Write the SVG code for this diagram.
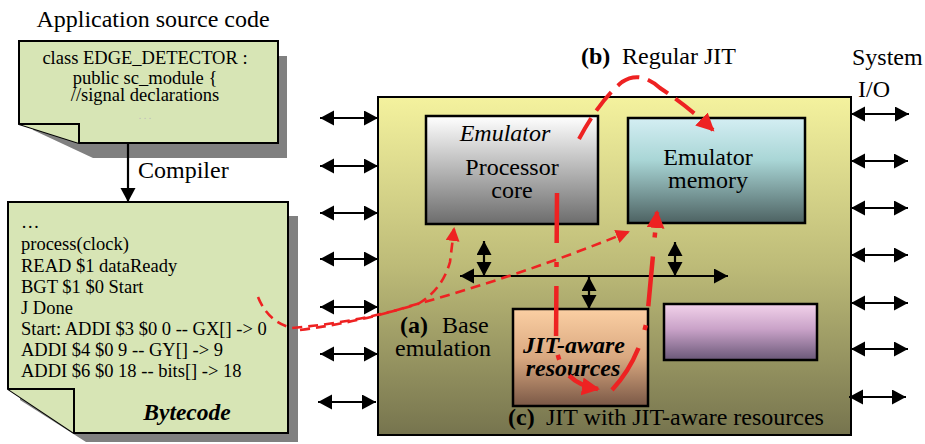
<svg xmlns="http://www.w3.org/2000/svg" width="925" height="444" viewBox="0 0 925 444">
<style>
  text { font-family: "Liberation Serif", "Times New Roman", serif; fill: #000; }
  .doc { fill: #d7e5b5; stroke: #000; stroke-width: 2; stroke-linejoin: miter; }
  .shadow { fill: #808080; }
  .box { stroke: #000; stroke-width: 2.5; }
  .blk { stroke: #000; stroke-width: 2.2; fill: none; }
  .dbl { marker-start: url(#ah); marker-end: url(#ah); }
  .red-thin { stroke: #ee2222; stroke-width: 2.6; fill: none; stroke-dasharray: 10 6; }
  .red-long { stroke: #ee2222; stroke-width: 4; fill: none; stroke-dasharray: 24 9; }
  .red-dd { stroke: #ee2222; stroke-width: 4.5; fill: none; stroke-dasharray: 50 19 5 19; }
  .code { font-size: 18.5px; }
  .lbl { font-size: 24px; }
</style>
<defs>
  <marker id="ah" markerUnits="userSpaceOnUse" markerWidth="16" markerHeight="16" refX="14" refY="7.5" orient="auto-start-reverse" viewBox="0 0 16 16">
    <path d="M0,0 L14,7.5 L0,15 z" fill="#000"/>
  </marker>
  <marker id="rh" markerUnits="userSpaceOnUse" markerWidth="20" markerHeight="20" refX="16" refY="9" orient="auto" viewBox="0 0 20 20">
    <path d="M0,0 L18,9 L0,18 z" fill="#ee2222"/>
  </marker>
  <marker id="rhs" markerUnits="userSpaceOnUse" markerWidth="16" markerHeight="16" refX="12" refY="7" orient="auto" viewBox="0 0 16 16">
    <path d="M0,0 L14,7 L0,14 z" fill="#ee2222"/>
  </marker>
  <linearGradient id="gMain" x1="0" y1="0" x2="0" y2="1">
    <stop offset="0" stop-color="#f4f29e"/>
    <stop offset="0.5" stop-color="#bdbb78"/>
    <stop offset="1" stop-color="#76744e"/>
  </linearGradient>
  <linearGradient id="gProc" x1="0" y1="0" x2="0" y2="1">
    <stop offset="0" stop-color="#ffffff"/>
    <stop offset="1" stop-color="#6c6c6c"/>
  </linearGradient>
  <linearGradient id="gMem" x1="0" y1="0" x2="0" y2="1">
    <stop offset="0" stop-color="#d4eef3"/>
    <stop offset="0.4" stop-color="#a9d6d6"/>
    <stop offset="1" stop-color="#4d6262"/>
  </linearGradient>
  <linearGradient id="gJit" x1="0" y1="0" x2="0" y2="1">
    <stop offset="0" stop-color="#fbcfa3"/>
    <stop offset="0.5" stop-color="#d9a880"/>
    <stop offset="1" stop-color="#7a5846"/>
  </linearGradient>
  <linearGradient id="gPur" x1="0" y1="0" x2="0" y2="1">
    <stop offset="0" stop-color="#f2d2ea"/>
    <stop offset="0.45" stop-color="#c9a2c8"/>
    <stop offset="1" stop-color="#6a5878"/>
  </linearGradient>
</defs>

<!-- Source code document -->
<g id="source-doc">
  <text class="lbl" x="153" y="27" text-anchor="middle">Application source code</text>
  <polygon class="shadow" points="33,56 287,56 287,158 93,158 33,130"/>
  <polygon class="doc" points="19,41 278,41 278,143 79,143 19,124"/>
  <polyline class="doc" points="19,124 79,124 79,143"/>
  <text class="code" x="145" y="64" text-anchor="middle">class EDGE_DETECTOR :</text>
  <text class="code" x="145" y="84" text-anchor="middle">public sc_module {</text>
  <text class="code" x="145" y="101" text-anchor="middle">//signal declarations</text>
  <text x="145" y="119" font-size="10" text-anchor="middle" style="fill:#bbbbbb">. . .</text>
</g>

<g id="compiler-label">
  <text class="lbl" x="138" y="178">Compiler</text>
</g>

<!-- Bytecode document -->
<g id="bytecode-doc">
  <polygon class="shadow" points="20,216 298,216 298,442 86,442 20,400"/>
  <polygon class="doc" points="8,202 288,202 288,433 74,433 8,389"/>
  <polyline class="doc" points="8,389 74,389 74,433"/>
  <text class="code" x="21" y="228">…</text>
  <text class="code" x="21" y="250">process(clock)</text>
  <text class="code" x="21" y="272">READ $1 dataReady</text>
  <text class="code" x="21" y="293">BGT $1 $0 Start</text>
  <text class="code" x="21" y="314">J Done</text>
  <text class="code" x="21" y="335">Start: ADDI $3 $0 0 -- GX[] -&gt; 0</text>
  <text class="code" x="21" y="356">ADDI $4 $0 9 -- GY[] -&gt; 9</text>
  <text class="code" x="21" y="377">ADDI $6 $0 18 -- bits[] -&gt; 18</text>
  <text x="187" y="420" font-size="23.5" font-weight="bold" font-style="italic" text-anchor="middle">Bytecode</text>
</g>

<!-- Main emulation box -->
<g id="main-box">
  <rect x="378" y="97" width="473" height="338" fill="url(#gMain)" stroke="#000" stroke-width="2"/>
</g>

<g id="processor-core">
  <rect class="box" x="426" y="116" width="172" height="108" fill="url(#gProc)"/>
  <text class="lbl" x="505" y="141" font-style="italic" text-anchor="middle">Emulator</text>
  <text class="lbl" x="512" y="175" text-anchor="middle">Processor</text>
  <text class="lbl" x="512" y="198" text-anchor="middle">core</text>
</g>

<g id="emulator-memory">
  <rect class="box" x="628" y="118" width="177" height="105" fill="url(#gMem)"/>
  <text class="lbl" x="708" y="165" text-anchor="middle">Emulator</text>
  <text class="lbl" x="708" y="188" text-anchor="middle">memory</text>
</g>

<g id="jit-resources">
  <rect class="box" x="513" y="309" width="135" height="97" fill="url(#gJit)"/>
  <text class="lbl" x="574" y="353" font-weight="bold" font-style="italic" text-anchor="middle">JIT-aware</text>
  <text class="lbl" x="573" y="376" font-weight="bold" font-style="italic" text-anchor="middle">resources</text>
</g>

<g id="purple-block">
  <rect class="box" x="664" y="304" width="153" height="56" fill="url(#gPur)"/>
</g>

<g id="labels">
  <text class="lbl" y="64"><tspan x="581" font-weight="bold">(b)</tspan><tspan x="622">Regular JIT</tspan></text>
  <text class="lbl" x="852" y="65">System</text>
  <text class="lbl" x="858" y="97">I/O</text>
  <text class="lbl" y="333"><tspan x="400" font-weight="bold">(a)</tspan><tspan x="442">Base</tspan></text>
  <text class="lbl" x="395" y="356">emulation</text>
  <text class="lbl" y="425"><tspan x="508" font-weight="bold">(c)</tspan><tspan x="546">JIT with JIT-aware resources</tspan></text>
</g>

<!-- Connectors -->
<g id="connectors">
  <line class="blk" x1="128" y1="143" x2="128" y2="202" marker-end="url(#ah)"/>
  <line class="blk dbl" x1="320" y1="118" x2="378" y2="118"/>
  <line class="blk dbl" x1="320" y1="166" x2="378" y2="166"/>
  <line class="blk dbl" x1="320" y1="213" x2="378" y2="213"/>
  <line class="blk dbl" x1="320" y1="259" x2="378" y2="259"/>
  <line class="blk dbl" x1="320" y1="307" x2="378" y2="307"/>
  <line class="blk dbl" x1="320" y1="354" x2="378" y2="354"/>
  <line class="blk dbl" x1="318" y1="402" x2="376" y2="402"/>
  <line class="blk dbl" x1="851" y1="114" x2="909" y2="114"/>
  <line class="blk dbl" x1="851" y1="161" x2="908" y2="161"/>
  <line class="blk dbl" x1="851" y1="208" x2="908" y2="208"/>
  <line class="blk dbl" x1="851" y1="255" x2="908" y2="255"/>
  <line class="blk dbl" x1="851" y1="303" x2="908" y2="303"/>
  <line class="blk dbl" x1="851" y1="349" x2="908" y2="349"/>
  <line class="blk dbl" x1="849" y1="397" x2="906" y2="397"/>
  <line class="blk dbl" x1="460" y1="276" x2="728" y2="276"/>
  <line class="blk dbl" x1="484" y1="241" x2="484" y2="276"/>
  <line class="blk dbl" x1="589" y1="277" x2="589" y2="309"/>
  <line class="blk dbl" x1="675" y1="242" x2="675" y2="276"/>
  <path class="red-thin" d="M258,297 Q268,322 292,328 Q360,322 418,304 Q442,290 450,262 L454,229" marker-end="url(#rhs)"/>
  <path class="red-thin" d="M300,330 Q360,322 410,306 Q520,276 628,232" marker-end="url(#rhs)"/>
  <path class="red-long" d="M579,139 Q600,100 622,82 Q640,70 660,88 Q690,108 713,130" marker-end="url(#rh)"/>
  <path class="red-dd" d="M557,193 L556,345 Q560,383 598,389" marker-end="url(#rh)"/>
  <path class="red-dd" d="M612,390 Q638,362 647,320 L657,212" marker-end="url(#rh)"/>
</g>
</svg>
